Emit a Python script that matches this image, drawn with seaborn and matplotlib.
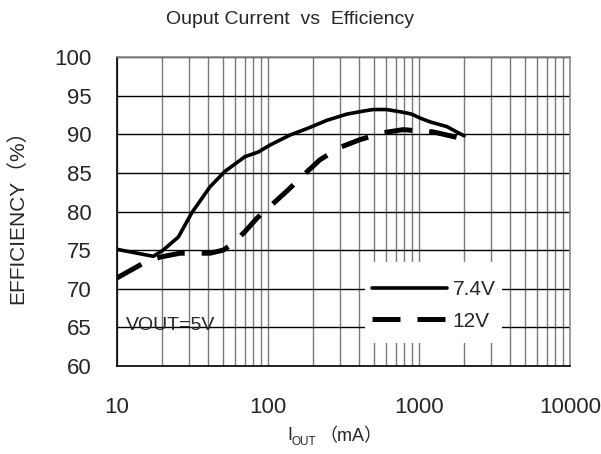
import matplotlib
matplotlib.use("Agg")
import matplotlib.pyplot as plt
from matplotlib.ticker import FixedLocator, LogLocator, NullFormatter
from matplotlib.patches import Rectangle
import seaborn as sns
import numpy as np

# ---- data ----
i_74 = [10, 17.4, 20.2, 25.5, 31.2, 41.3, 51.9, 70.4, 86.3, 103, 140, 185, 245, 332,
        428, 498, 610, 807, 893, 1016, 1183, 1525, 1778, 1988]
eff_74 = [75.1, 74.2, 75.0, 76.7, 79.8, 83.2, 85.2, 87.1, 87.7, 88.6, 89.9, 90.8, 91.8, 92.6,
          93.0, 93.2, 93.2, 92.8, 92.6, 92.1, 91.6, 91.0, 90.3, 89.8]
i_12 = [10, 14.9, 19.3, 26.1, 41.3, 50.6, 58.9, 70.4, 84.2, 136, 167, 221, 300,
        406, 580, 787, 966, 1245, 1525, 1778, 1988]
eff_12 = [71.4, 73.3, 74.1, 74.6, 74.6, 75.0, 75.9, 77.4, 79.1, 82.8, 84.5, 86.7, 88.3,
          89.3, 90.2, 90.6, 90.45, 90.3, 89.9, 89.6, 89.0]
series_labels = ["7.4V", "12V"]
x_ticks = [10, 100, 1000, 10000]
y_ticks = [60, 65, 70, 75, 80, 85, 90, 95, 100]

sns.set_style("white")
FONT = ["Liberation Sans Narrow", "Liberation Sans", "Noto Sans CJK SC", "DejaVu Sans"]
plt.rcParams["font.family"] = FONT

fig = plt.figure(figsize=(6.01, 4.54), dpi=100)
ax = fig.add_axes([117 / 601, 1 - 366 / 454, 453 / 601, 309 / 454])

sns.lineplot(x=i_74, y=eff_74, ax=ax, color="black", lw=2.6, sort=False,
             label=series_labels[0], zorder=5)
sns.lineplot(x=i_12, y=eff_12, ax=ax, color="black", lw=3.6, sort=False,
             label=series_labels[1], zorder=5)
l74, l12 = ax.lines[0], ax.lines[1]
l12.set_dashes([5.6, 3.4])
l12.set_dash_capstyle("butt")

ax.set_xscale("log")
ax.set_xlim(10, 10000)
ax.set_ylim(60, 100)
ax.xaxis.set_major_locator(FixedLocator(x_ticks))
ax.set_xticklabels([str(t) for t in x_ticks])
ax.xaxis.set_minor_locator(LogLocator(base=10, subs=np.arange(2, 10)))
ax.xaxis.set_minor_formatter(NullFormatter())
ax.set_yticks(y_ticks)
ax.set_yticklabels([str(t) for t in y_ticks])

# grid
ax.grid(True, axis="x", which="both", color="#7a7a7a", lw=1.0, zorder=0)
ax.grid(True, axis="y", which="major", color="black", lw=1.0, zorder=0)
ax.set_axisbelow(True)

for side in ["top", "right"]:
    ax.spines[side].set_color("#8a8a8a")
for side in ["left", "bottom"]:
    ax.spines[side].set_color("black")
for s in ax.spines.values():
    s.set_linewidth(1.2)

ax.tick_params(axis="both", which="major", direction="in", length=4, width=1.2,
               color="black", labelsize=16, pad=22)
ax.tick_params(axis="x", which="minor", length=0)
ax.tick_params(axis="y", which="major", length=0, pad=18)

ax.set_ylabel("EFFICIENCY（%）", fontsize=15, labelpad=20, family=FONT)
ax.set_xlabel("")
fig.text(290 / 601, 1 - 20 / 454, "Ouput Current  vs  Efficiency", fontsize=14,
         ha="center", va="center", family=FONT)

# x label with subscript
ax.text(0.377, -0.239, "I", transform=ax.transAxes, fontsize=13, ha="left", va="baseline")
ax.text(0.386, -0.256, "OUT", transform=ax.transAxes, fontsize=8.5, ha="left", va="baseline")
ax.text(0.447, -0.245, "（mA）", transform=ax.transAxes, fontsize=13, ha="left",
        va="baseline", family=FONT)

ax.text(11.5, 65.3, "VOUT=5V", fontsize=14, ha="left", va="center", zorder=6)

# legend area (white box without border)
ax.add_patch(Rectangle((0.547, 0.074), 0.302, 0.262, transform=ax.transAxes,
                       facecolor="white", edgecolor="none", zorder=3))
leg = ax.legend(handles=[l74, l12], labels=series_labels, loc="center left",
                bbox_to_anchor=(0.562, 0.196), frameon=False, fontsize=15,
                handlelength=3.6, handletextpad=0.3, labelspacing=0.6,
                borderpad=0, borderaxespad=0)
leg.set_zorder(4)

fig.savefig("out.png", dpi=100)
